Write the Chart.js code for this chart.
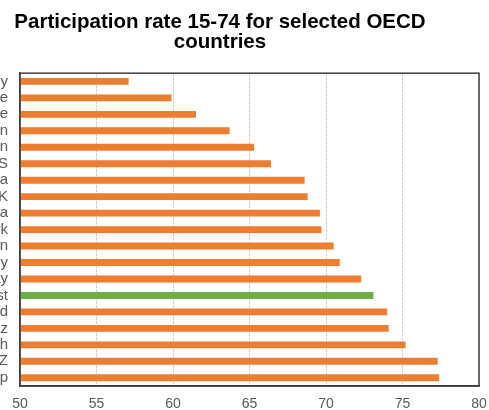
<!DOCTYPE html>
<html>
<head>
<meta charset="utf-8">
<script src="https://cdn.jsdelivr.net/npm/chart.js@4.4.0/dist/chart.umd.min.js"></script>
<style>
  html, body { margin: 0; padding: 0; background: #fff; overflow: hidden; }
  body { width: 489px; height: 410px; position: relative; }
  #wrap { position: absolute; left: -39px; top: 0; width: 528px; height: 410px; }
</style>
</head>
<body>
<div id="wrap"><canvas id="chart"></canvas></div>
<script>
// categories, top to bottom
const countries = ["Italy", "Greece", "France", "Spain", "Japan", "US", "Korea", "UK",
  "Canada", "Denmark", "Sweden", "Germany", "Norway", "NZ forecast", "Iceland",
  "Switz", "Dutch", "NZ", "NZ top"];
const rates = [57.1, 59.9, 61.5, 63.7, 65.3, 66.4, 68.6, 68.8, 69.6, 69.7, 70.5,
  70.9, 72.3, 73.1, 74.0, 74.1, 75.2, 77.3, 77.4];
const highlight = "NZ forecast";
const xTicks = [50, 55, 60, 65, 70, 75, 80];

const ORANGE = "#ED7D31";
const GREEN = "#70AD47";
const FONT = "'Liberation Sans', Arial, sans-serif";

// box round the plot area
const frame = {
  id: "frame",
  afterDatasetsDraw(chart) {
    const { ctx, chartArea: a } = chart;
    ctx.save();
    ctx.setLineDash([]);
    ctx.strokeStyle = "#404040";
    ctx.lineWidth = 1.5;
    ctx.strokeRect(a.left, a.top, a.right - a.left, a.bottom - a.top);
    ctx.restore();
  }
};

new Chart(document.getElementById("chart"), {
  type: "bar",
  data: {
    labels: countries,
    datasets: [{
      data: rates,
      backgroundColor: countries.map(c => c === highlight ? GREEN : ORANGE),
      barPercentage: 0.42,
      categoryPercentage: 1
    }]
  },
  options: {
    indexAxis: "y",
    responsive: true,
    maintainAspectRatio: false,
    animation: false,
    layout: { padding: { right: 10, bottom: 0 } },
    plugins: {
      legend: { display: false },
      tooltip: { enabled: false },
      title: {
        display: true,
        text: ["Participation rate 15-74 for selected OECD", "countries"],
        color: "#000",
        font: { family: FONT, size: 20.5, weight: "bold", lineHeight: 0.98 },
        padding: { top: 12, bottom: 21 }
      }
    },
    scales: {
      x: {
        min: 50,
        max: 80,
        afterBuildTicks(s) { s.ticks = xTicks.map(v => ({ value: v })); },
        afterFit(s) { s.height = 24; s.paddingRight = 0; },
        grid: { color: "#cfcfcf", drawTicks: false },
        border: { color: "#262626", width: 1.5, dash: [3, 1] },
        ticks: {
          color: "#595959",
          padding: 10,
          font: { family: FONT, size: 14 }
        }
      },
      y: {
        afterFit(s) { s.width = 59; },
        grid: { display: false, drawTicks: false },
        border: { color: "#404040", width: 1.5 },
        ticks: {
          color: "#595959",
          padding: 12,
          autoSkip: false,
          font: { family: FONT, size: 15 }
        }
      }
    }
  },
  plugins: [frame]
});
</script>
</body>
</html>
